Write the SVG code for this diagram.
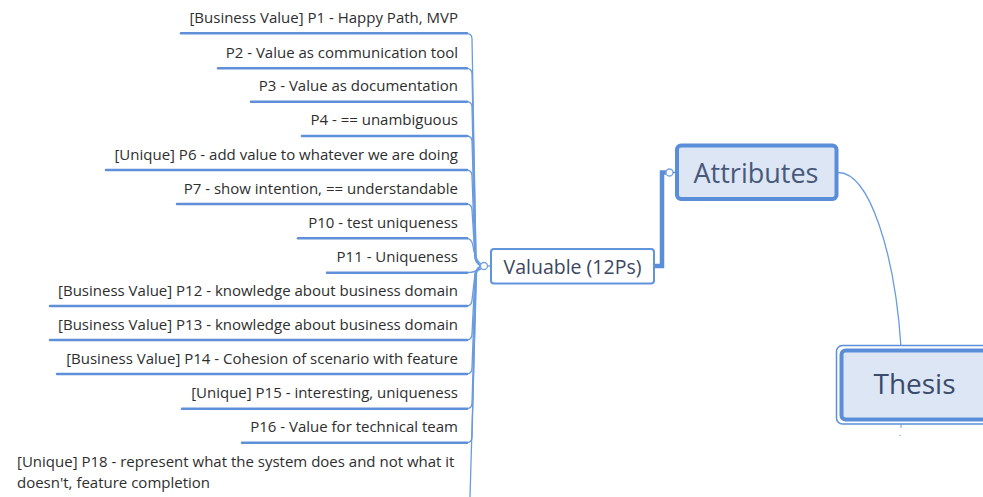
<svg xmlns="http://www.w3.org/2000/svg" width="983" height="497" viewBox="0 0 983 497">
<style>
.item{font-family:"Open Sans","Liberation Sans",sans-serif;font-size:15px;fill:#2e2e2e;text-anchor:end}
.ul{stroke:#5e8fd8;stroke-width:2.5;fill:none;stroke-linecap:round}
.cn{stroke:#6a9be0;stroke-width:1.3;fill:none}
.big{font-family:"Open Sans","Liberation Sans",sans-serif;font-size:27px;fill:#48597a;text-anchor:middle}
</style>
<rect width="983" height="497" fill="#ffffff"/>
<g id="connectors">
<path class="cn" d="M466,33.3 Q472,33.3 472,39 L476,258 Q477,266 484,266"/>
<path class="cn" d="M466,68.3 Q472,68.3 472,74 L476,258 Q477,266 484,266"/>
<path class="cn" d="M466,101.7 Q472,101.7 472,107 L475.5,258 Q477,266 484,266"/>
<path class="cn" d="M466,136 Q472,136 472,141 L475.5,258 Q477,266 484,266"/>
<path class="cn" d="M466,170 Q472,170 472,176 L475,258 Q477,266 484,266"/>
<path class="cn" d="M466,204 Q472,204 472,210 L475,258 Q477,266 484,266"/>
<path class="cn" d="M466,238.3 Q472,238.3 473,246 Q475,262 484,266"/>
<path class="cn" d="M466,272.7 Q478,272.7 484,266"/>
<path class="cn" d="M466,306 Q472,306 472,300 L475,274 Q477,266 484,266"/>
<path class="cn" d="M466,340 Q472,340 472,334 L475,274 Q477,266 484,266"/>
<path class="cn" d="M466,374 Q472,374 472,368 L475.5,274 Q477,266 484,266"/>
<path class="cn" d="M466,408.7 Q472,408.7 472,403 L476,274 Q477,266 484,266"/>
<path class="cn" d="M466,442.7 Q472,442.7 472,437 L476,274 Q477,266 484,266"/>
<path class="cn" d="M484,266 Q477,266 476.5,274 L470,497"/>
<path d="M655,266 L662,266 L662,172.5 L667,172.5" fill="none" stroke="#5b8ed8" stroke-width="4.5"/>
<circle cx="669.5" cy="172.5" r="3.5" fill="#ffffff" stroke="#7aa3df" stroke-width="1.3"/>
<line x1="673" y1="172.5" x2="677" y2="172.5" stroke="#5b8ed8" stroke-width="1.5"/>
<circle cx="484" cy="266" r="3.5" fill="#ffffff" stroke="#7aa3df" stroke-width="1.3"/>
<line x1="487.5" y1="266" x2="491" y2="266" stroke="#6a9be0" stroke-width="1.3"/>
<path class="cn" d="M838,172.5 C870,172.5 895,255 901,347"/>
<line x1="901" y1="424" x2="901" y2="428" stroke="#6a9be0" stroke-width="1"/>
<circle cx="900" cy="435.5" r="0.8" fill="#8eb0e6"/>
</g>
<g id="p1"><text class="item" x="458" y="22.5">[Business Value] P1 - Happy Path, MVP</text><line class="ul" x1="181" y1="33.3" x2="467" y2="33.3"/></g>
<g id="p2"><text class="item" x="458" y="57.5">P2 - Value as communication tool</text><line class="ul" x1="218" y1="68.3" x2="467" y2="68.3"/></g>
<g id="p3"><text class="item" x="458" y="91">P3 - Value as documentation</text><line class="ul" x1="251" y1="101.7" x2="467" y2="101.7"/></g>
<g id="p4"><text class="item" x="458" y="125">P4 - == unambiguous</text><line class="ul" x1="302" y1="136" x2="467" y2="136"/></g>
<g id="p6"><text class="item" x="458" y="159.5">[Unique] P6 - add value to whatever we are doing</text><line class="ul" x1="106" y1="170" x2="467" y2="170"/></g>
<g id="p7"><text class="item" x="458" y="193.5">P7 - show intention, == understandable</text><line class="ul" x1="177" y1="204" x2="467" y2="204"/></g>
<g id="p10"><text class="item" x="458" y="227.5">P10 - test uniqueness</text><line class="ul" x1="298" y1="238.3" x2="467" y2="238.3"/></g>
<g id="p11"><text class="item" x="458" y="262">P11 - Uniqueness</text><line class="ul" x1="327" y1="272.7" x2="467" y2="272.7"/></g>
<g id="p12"><text class="item" x="458" y="295.5">[Business Value] P12 - knowledge about business domain</text><line class="ul" x1="50" y1="306" x2="467" y2="306"/></g>
<g id="p13"><text class="item" x="458" y="329.5">[Business Value] P13 - knowledge about business domain</text><line class="ul" x1="50" y1="340" x2="467" y2="340"/></g>
<g id="p14"><text class="item" x="458" y="363.5">[Business Value] P14 - Cohesion of scenario with feature</text><line class="ul" x1="57" y1="374" x2="467" y2="374"/></g>
<g id="p15"><text class="item" x="458" y="398">[Unique] P15 - interesting, uniqueness</text><line class="ul" x1="182" y1="408.7" x2="467" y2="408.7"/></g>
<g id="p16"><text class="item" x="458" y="432">P16 - Value for technical team</text><line class="ul" x1="242" y1="442.7" x2="467" y2="442.7"/></g>
<g id="p18"><text class="item" style="text-anchor:start" x="17" y="466.5">[Unique] P18 - represent what the system does and not what it</text><text class="item" style="text-anchor:start" x="17" y="488">doesn't, feature completion</text></g>
<g id="valuable">
<rect x="491" y="249" width="163" height="34.5" rx="3" fill="#ffffff" stroke="#6294dc" stroke-width="2"/>
<text x="572.5" y="274" font-family="'Open Sans','Liberation Sans',sans-serif" font-size="19.5" fill="#3b4660" text-anchor="middle">Valuable (12Ps)</text>
</g>
<g id="attributes">
<rect x="677" y="145.5" width="159.5" height="53.5" rx="4" fill="#dce6f4" stroke="#5b8ed8" stroke-width="4"/>
<text class="big" x="756" y="182.5">Attributes</text>
</g>
<g id="thesis">
<rect x="836.5" y="345.5" width="160" height="78.5" rx="6" fill="#ffffff" stroke="#5b8ed8" stroke-width="1.5"/>
<rect x="841.5" y="350.5" width="155" height="69" rx="4" fill="#dce6f4" stroke="#5b8ed8" stroke-width="4"/>
<text class="big" x="914.5" y="394" style="fill:#3a4b6c;font-size:28px">Thesis</text>
</g>
</svg>
